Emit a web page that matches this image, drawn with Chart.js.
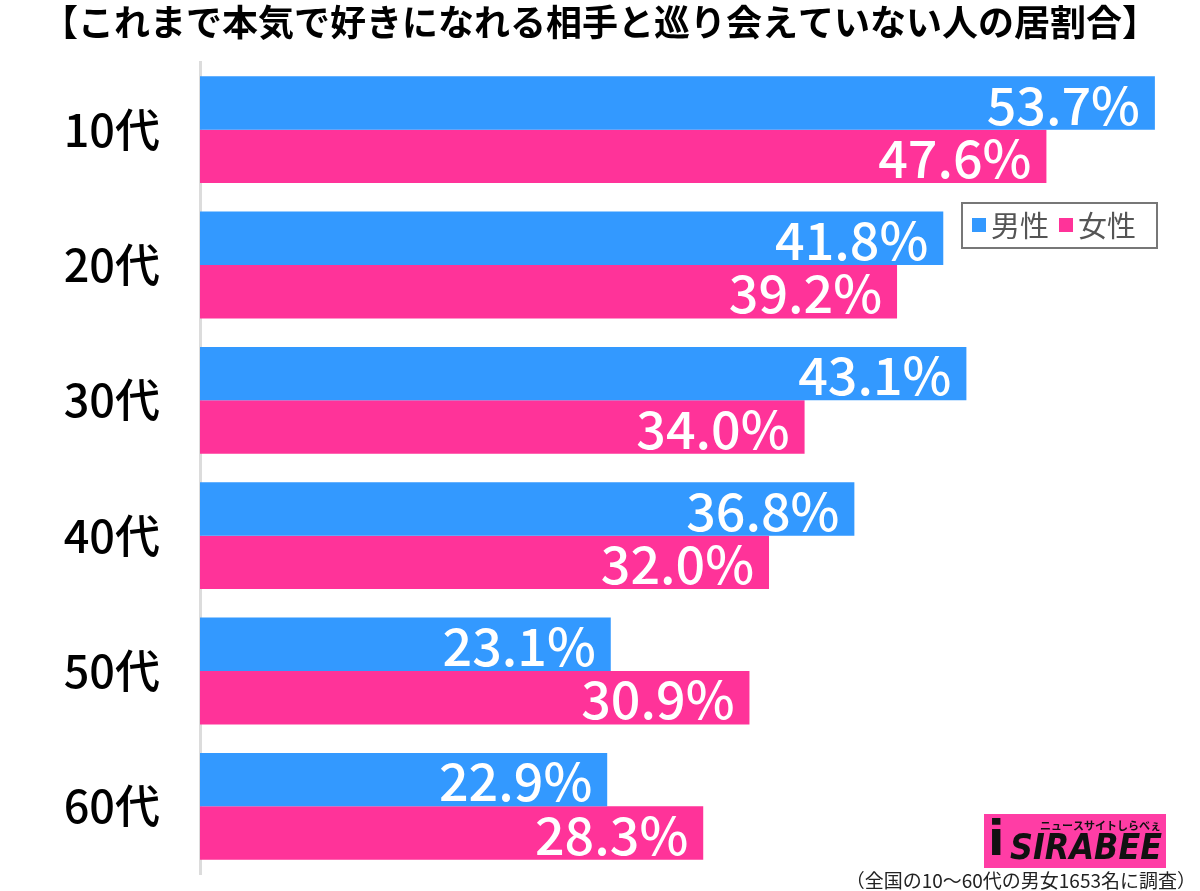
<!DOCTYPE html>
<html><head><meta charset="utf-8">
<script src="https://cdn.jsdelivr.net/npm/chart.js@4/dist/chart.umd.min.js"></script>
<style>html,body{margin:0;padding:0;background:#fff;}#wrap{width:1200px;height:891px;position:relative;}</style>
</head><body><div id="wrap"><canvas id="c" width="1200" height="891"></canvas></div>
<script>
const categories = ["10代","20代","30代","40代","50代","60代"];
const maleValues = [53.7, 41.8, 43.1, 36.8, 23.1, 22.9];
const femaleValues = [47.6, 39.2, 34.0, 32.0, 30.9, 28.3];
const seriesNames = ["男性","女性"];
const titleText = "【これまで本気で好きになれる相手と巡り会えていない人の居割合】";
const footnoteText = "（全国の10〜60代の男女1653名に調査）";
const FONT = "'Noto Sans CJK JP','Noto Sans',sans-serif";
const BLUE = "#3399ff", PINK = "#ff3399";

const overlay = {
  id: "overlay",
  afterDatasetsDraw(chart) {
    const ctx = chart.ctx;
    ctx.save();
    ctx.font = "500 52px " + FONT;
    ctx.fillStyle = "#fff";
    ctx.textAlign = "right";
    ctx.textBaseline = "middle";
    chart.data.datasets.forEach((ds, di) => {
      chart.getDatasetMeta(di).data.forEach((bar, i) => {
        ctx.fillText(ds.data[i].toFixed(1) + "%", bar.x - 15, bar.y + 2);
      });
    });
    ctx.restore();
  },
  afterDraw(chart) {
    const ctx = chart.ctx;
    ctx.save();
    // title
    ctx.font = "bold 36px " + FONT;
    ctx.fillStyle = "#000";
    ctx.textAlign = "center";
    ctx.textBaseline = "middle";
    ctx.fillText(titleText, 600, 22);
    // legend
    ctx.fillStyle = "#fff";
    ctx.fillRect(962, 203, 195, 45);
    ctx.strokeStyle = "#777";
    ctx.lineWidth = 2;
    ctx.strokeRect(962, 203, 195, 45);
    ctx.font = "29px " + FONT;
    ctx.textAlign = "left";
    const cols = [BLUE, PINK];
    let x = 972;
    seriesNames.forEach((n, i) => {
      ctx.fillStyle = cols[i];
      ctx.fillRect(x, 218, 14, 14);
      ctx.fillStyle = "#555";
      ctx.fillText(n, x + 19, 226);
      x += 19 + ctx.measureText(n).width + 10;
    });
    // logo
    ctx.fillStyle = "#ff3da5";
    ctx.fillRect(984, 814, 182, 54);
    ctx.fillStyle = "#111";
    ctx.textAlign = "left";
    ctx.font = "italic 900 36px 'DejaVu Sans', sans-serif";
    ctx.fillText("SIRABEE", 1010, 850, 152);
    ctx.font = "bold 11px " + FONT;
    ctx.fillText("ニュースサイトしらべぇ", 1040, 826, 122);
    ctx.font = "bold 48px 'DejaVu Sans', sans-serif";
    ctx.fillText("i", 988, 843);
    // footnote
    ctx.font = "19px " + FONT;
    ctx.fillStyle = "#222";
    ctx.textAlign = "right";
    ctx.fillText(footnoteText, 1196, 881);
    ctx.restore();
  }
};

new Chart(document.getElementById("c"), {
  type: "bar",
  data: {
    labels: categories,
    datasets: [
      { label: seriesNames[0], data: maleValues, backgroundColor: BLUE, categoryPercentage: 0.79, barPercentage: 1.0 },
      { label: seriesNames[1], data: femaleValues, backgroundColor: PINK, categoryPercentage: 0.79, barPercentage: 1.0 }
    ]
  },
  options: {
    indexAxis: "y",
    responsive: false,
    animation: false,
    devicePixelRatio: 1,
    layout: { padding: { top: 62, bottom: 17, left: 0, right: 22 } },
    plugins: { legend: { display: false }, title: { display: false }, tooltip: { enabled: false } },
    scales: {
      x: {
        min: 0, max: 55,
        display: false,
        grid: { display: false }
      },
      y: {
        afterFit(s) { s.width = 200; s.paddingTop = 0; s.paddingBottom = 0; },
        grid: { display: false, drawTicks: false },
        border: { display: true, color: "#dcdcdc", width: 3 },
        ticks: { color: "#000", font: { family: FONT, size: 45, weight: "500" }, padding: 40 }
      }
    }
  },
  plugins: [overlay]
});
</script></body></html>
